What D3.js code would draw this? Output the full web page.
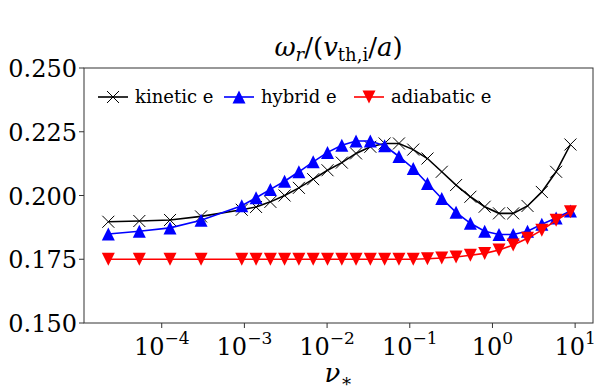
<!DOCTYPE html>
<html>
<head>
<meta charset="utf-8">
<script src="https://cdn.jsdelivr.net/npm/d3@7"></script>
<style>
  html, body { margin: 0; padding: 0; background: #fff; }
</style>
</head>
<body>
<svg id="chart" width="598" height="390"></svg>
<script>
// collisionality points (nu_*)
const nuVals = [2.26e-5, 5.36e-5, 1.26e-4, 2.99e-4,
  9.29e-4, 1.384e-3, 2.061e-3, 3.062e-3, 4.56e-3, 6.79e-3, 1.012e-2, 1.507e-2,
  2.239e-2, 3.334e-2, 4.966e-2, 7.396e-2, 0.1102, 0.1637, 0.2438, 0.3631,
  0.5408, 0.8054, 1.1995, 1.782, 2.655, 3.954, 5.888, 8.77];

// omega_r / (v_th,i / a)
const kineticVals = [0.1897, 0.1900, 0.1904, 0.1918,
  0.1944, 0.1955, 0.1975, 0.2000, 0.2030, 0.2064, 0.2099, 0.2129,
  0.2165, 0.2191, 0.2204, 0.2204, 0.2180, 0.2145, 0.2093, 0.2041,
  0.1995, 0.1956, 0.1930, 0.1930, 0.1959, 0.2014, 0.2093, 0.2200];
const hybridVals = [0.1849, 0.1860, 0.1873, 0.1903,
  0.1960, 0.1991, 0.2024, 0.2056, 0.2093, 0.2132, 0.2169, 0.2197,
  0.2214, 0.2214, 0.2195, 0.2153, 0.2106, 0.2047, 0.1988, 0.1934,
  0.1891, 0.1860, 0.1847, 0.1847, 0.1860, 0.1887, 0.1912, 0.1939];
const adiabaticVals = [0.175, 0.175, 0.175, 0.175,
  0.175, 0.175, 0.175, 0.175, 0.175, 0.175, 0.175, 0.175,
  0.175, 0.175, 0.175, 0.175, 0.175, 0.1752, 0.1755, 0.1759,
  0.1766, 0.1773, 0.1786, 0.1806, 0.1832, 0.1864, 0.1903, 0.1936];

const seriesNames = ["kinetic e", "hybrid e", "adiabatic e"];
const seriesColors = ["#000000", "#0000ff", "#ff0000"];
const seriesMarkers = ["x", "up", "down"];
const yTicks = [0.150, 0.175, 0.200, 0.225, 0.250];
const xTickExps = [-4, -3, -2, -1, 0, 1];

// layout
const plotL = 84, plotR = 593, plotT = 68, plotB = 323;
const serif = "DejaVu Serif";
const legendX = [98, 224, 354];

const svg = d3.select("#chart");

const x = d3.scaleLog()
  .domain([Math.pow(10, -4.94), Math.pow(10, 1.216)])
  .range([plotL, plotR]);
const y = d3.scaleLinear()
  .domain([0.150, 0.250])
  .range([plotB, plotT]);

// markers
function drawMarker(g, kind, color) {
  if (kind === "x") {
    g.append("path").attr("d", "M-6,-6L6,6M-6,6L6,-6")
      .attr("stroke", color).attr("stroke-width", 1).attr("fill", "none");
  } else if (kind === "up") {
    g.append("path").attr("d", "M0,-6.5L6.5,6.5L-6.5,6.5Z").attr("fill", color);
  } else {
    g.append("path").attr("d", "M0,6.5L6.5,-6.5L-6.5,-6.5Z").attr("fill", color);
  }
}

const allSeries = [kineticVals, hybridVals, adiabaticVals];
const line = d3.line().x(d => x(d[0])).y(d => y(d[1]));

allSeries.forEach((vals, i) => {
  const pts = nuVals.map((n, j) => [n, vals[j]]);
  svg.append("path")
    .attr("d", line(pts))
    .attr("fill", "none")
    .attr("stroke", seriesColors[i])
    .attr("stroke-width", 1.6);
  pts.forEach(p => {
    const g = svg.append("g").attr("transform", `translate(${x(p[0])},${y(p[1])})`);
    drawMarker(g, seriesMarkers[i], seriesColors[i]);
  });
});

// frame
svg.append("rect")
  .attr("x", plotL).attr("y", plotT)
  .attr("width", plotR - plotL).attr("height", plotB - plotT)
  .attr("fill", "none").attr("stroke", "#333").attr("stroke-width", 1);

// y ticks
yTicks.forEach(t => {
  svg.append("line")
    .attr("x1", plotL - 5).attr("x2", plotL)
    .attr("y1", y(t)).attr("y2", y(t))
    .attr("stroke", "#333");
  svg.append("text")
    .attr("x", plotL - 7).attr("y", y(t) + 9)
    .attr("text-anchor", "end")
    .attr("font-family", serif)
    .attr("font-size", 24)
    .text(t.toFixed(3));
});

// x ticks
xTickExps.forEach(e => {
  const px = x(Math.pow(10, e));
  svg.append("line")
    .attr("x1", px).attr("x2", px)
    .attr("y1", plotB).attr("y2", plotB + 5)
    .attr("stroke", "#333");
  const t = svg.append("text")
    .attr("x", px).attr("y", 355)
    .attr("text-anchor", "middle")
    .attr("font-family", serif)
    .attr("font-size", 24);
  t.append("tspan").text("10");
  t.append("tspan").attr("dy", -11).attr("font-size", 17)
    .text(e < 0 ? "\u2212" + Math.abs(e) : String(e));
});

// title
const title = svg.append("text")
  .attr("x", (plotL + plotR) / 2).attr("y", 56)
  .attr("text-anchor", "middle")
  .attr("font-family", serif)
  .attr("font-size", 26);
title.append("tspan").attr("font-style", "italic").text("\u03c9");
title.append("tspan").attr("font-style", "italic").attr("font-size", 18).attr("dy", 5).text("r");
title.append("tspan").attr("dy", -5).text("/(");
title.append("tspan").attr("font-style", "italic").text("v");
title.append("tspan").attr("font-size", 18).attr("dy", 5).text("th,i");
title.append("tspan").attr("dy", -5).text("/");
title.append("tspan").attr("font-style", "italic").text("a");
title.append("tspan").text(")");

// x label
const xl = svg.append("text")
  .attr("x", (plotL + plotR) / 2).attr("y", 382)
  .attr("text-anchor", "middle")
  .attr("font-family", serif)
  .attr("font-size", 26);
xl.append("tspan").attr("font-style", "italic").text("\u03bd");
xl.append("tspan").attr("font-size", 18).attr("dy", 5).text("\u2217");

// legend
const ly = 97;
seriesNames.forEach((name, i) => {
  const lx = legendX[i];
  svg.append("line")
    .attr("x1", lx).attr("x2", lx + 30)
    .attr("y1", ly).attr("y2", ly)
    .attr("stroke", seriesColors[i]).attr("stroke-width", 1.6);
  const g = svg.append("g").attr("transform", `translate(${lx + 15},${ly})`);
  drawMarker(g, seriesMarkers[i], seriesColors[i]);
  svg.append("text")
    .attr("x", lx + 37).attr("y", ly + 6)
    .attr("font-family", serif)
    .attr("font-size", 18)
    .text(name);
});
</script>
</body>
</html>
